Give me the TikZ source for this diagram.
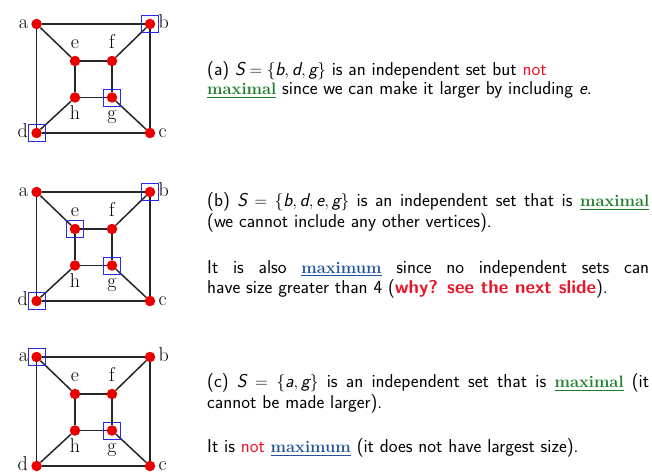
\documentclass[tikz,border=0pt]{standalone}
\usepackage{amsmath}
\usepackage{xcolor}
\usepackage{tikz}
\usetikzlibrary{positioning}

\definecolor{hired}{RGB}{232,20,40}
\definecolor{mgreen}{RGB}{30,125,40}
\definecolor{mblue}{RGB}{35,85,155}
\definecolor{vred}{RGB}{235,0,0}
\definecolor{selblue}{RGB}{40,40,230}

\newcommand{\mv}[1]{\textsl{#1}}
\newcommand{\maxl}[1]{{\color{mgreen}\underline{\rmfamily\fontsize{16.5}{19}\selectfont\bfseries #1}}}
\newcommand{\maxm}[1]{{\color{mblue}\underline{\rmfamily\fontsize{16.5}{19}\selectfont\bfseries #1}}}

\begin{document}
\begin{tikzpicture}[x=1pt,y=-1pt,
    vertex/.style={circle,fill=vred,inner sep=0pt,minimum size=10.5pt},
    chosen/.style={draw=selblue,line width=0.8pt,inner sep=0pt,minimum size=17pt},
    edge/.style={draw=black!85,line width=1.5pt},
    lbl/.style={font=\fontsize{20}{20}\selectfont,inner sep=1pt,text height=13pt,text depth=4.5pt},
    txt/.style={anchor=north west,inner sep=0pt,text width=442pt,align=justify,
      font=\sffamily\fontsize{18.6}{19}\selectfont}]

  \useasboundingbox (0,0) rectangle (652,473);

  % Three copies of the graph
  \foreach \p/\y in {1/24,2/192,3/357} {
    \node[vertex] (a\p) at (36.6,\y) {};
    \node[vertex] (b\p) at (150,\y) {};
    \node[vertex] (c\p) at (150,\y+109) {};
    \node[vertex] (d\p) at (36.6,\y+109) {};
    \node[vertex] (e\p) at (75,\y+37) {};
    \node[vertex] (f\p) at (112,\y+37) {};
    \node[vertex] (g\p) at (112,\y+73.5) {};
    \node[vertex] (h\p) at (75,\y+73.5) {};

    \draw[edge] (a\p) -- (b\p) -- (c\p) -- (d\p) -- (a\p);
    \draw[edge] (e\p) -- (f\p) -- (g\p) -- (h\p) -- (e\p);
    \draw[edge] (a\p) -- (e\p);
    \draw[edge] (b\p) -- (f\p);
    \draw[edge] (c\p) -- (g\p);
    \draw[edge] (d\p) -- (h\p);

    \node[lbl,left=2pt of a\p] (la\p) {a};
    \node[lbl,right=2pt of b\p] (lb\p) {b};
    \node[lbl,right=2pt of c\p] (lc\p) {c};
    \node[lbl,left=2pt of d\p] (ld\p) {d};
    \node[lbl,above=1pt of e\p] (le\p) {e};
    \node[lbl,above=1pt of f\p] (lf\p) {f};
    \node[lbl,below=2pt of g\p] (lg\p) {g};
    \node[lbl,below=2pt of h\p] (lh\p) {h};
  }

  % Chosen vertices
  \foreach \v in {b1,d1,g1,b2,d2,e2,g2,a3,g3}
    \node[chosen] (sq\v) at (\v) {};

  % Text
  \node[txt] (txta) at (207,61.7) {\strut(a) $\mv{S}=\{\mv{b},\mv{d},\mv{g}\}$ is an independent set but {\color{hired}not}\\
    \maxl{maximal} since we can make it larger by including $\mv{e}$.};
  \node[txt] (txtb1) at (207,192.7) {\strut(b) $\mv{S}=\{\mv{b},\mv{d},\mv{e},\mv{g}\}$ is an independent set that is \maxl{maximal}\linebreak
    (we cannot include any other vertices).};
  \node[txt] (txtb2) at (207,259.7) {\strut It is also \maxm{maximum} since no independent sets can\linebreak
    have size greater than 4 ({\color{hired}\bfseries why? see the next slide}).};
  \node[txt] (txtc1) at (207,373.7) {\strut(c) $\mv{S}=\{\mv{a},\mv{g}\}$ is an independent set that is \maxl{maximal} (it\linebreak
    cannot be made larger).};
  \node[txt] (txtc2) at (207,438.7) {\strut It is {\color{hired}not} \maxm{maximum} (it does not have largest size).};
\end{tikzpicture}
\end{document}
